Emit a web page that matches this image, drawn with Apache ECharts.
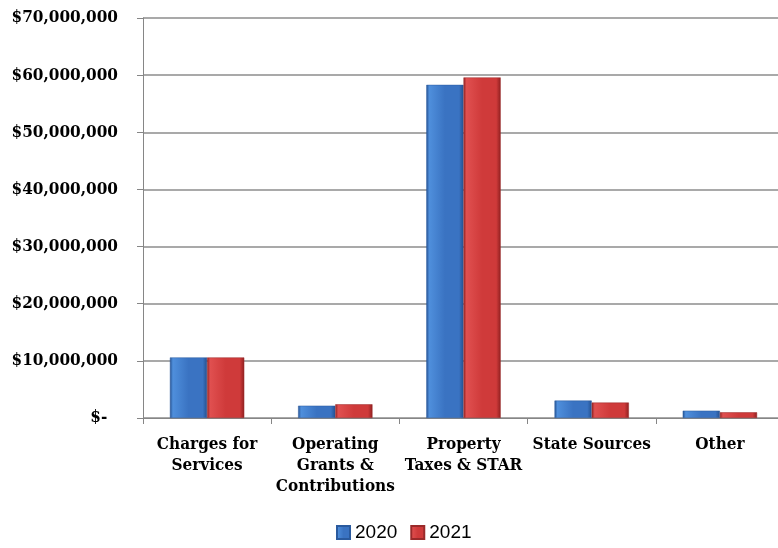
<!DOCTYPE html>
<html><head><meta charset="utf-8">
<script src="https://cdn.jsdelivr.net/npm/echarts@6/dist/echarts.min.js"></script>
<style>html,body{margin:0;padding:0;background:#fff}#c{width:778px;height:548px}</style>
</head><body><div id="c"></div>
<script>
const categories = ["Charges for\nServices", "Operating\nGrants &\nContributions", "Property\nTaxes & STAR", "State Sources", "Other"];
const seriesNames = ["2020", "2021"];
const values2020 = [10600000, 2150000, 58300000, 3050000, 1280000];
const values2021 = [10600000, 2400000, 59600000, 2700000, 1000000];
const yTicks = [0, 10000000, 20000000, 30000000, 40000000, 50000000, 60000000, 70000000];

function grad(light, mid, dark) {
  return new echarts.graphic.LinearGradient(0, 0, 1, 0, [
    {offset: 0, color: dark}, {offset: 0.08, color: light}, {offset: 0.5, color: mid}, {offset: 0.88, color: mid}, {offset: 1, color: dark}
  ]);
}
const blue = grad('#4f8fdc', '#3a73c2', '#24508f');
const red = grad('#e05050', '#cf3a3a', '#8f2020');

const serif = '"DejaVu Serif Condensed", "DejaVu Serif", serif';
function fmt(v) {
  if (v === 0) return '$-  ';
  return '$' + v.toLocaleString('en-US');
}
const chart = echarts.init(document.getElementById('c'));
chart.setOption({
  animation: false,
  grid: {left: 143, width: 641, top: 18, height: 400, containLabel: false, outerBoundsMode: 'none'},
  legend: {
    data: seriesNames, top: 523, left: 336, padding: 0, itemWidth: 13, itemHeight: 13, itemGap: 13,
    textStyle: {fontFamily: '"Liberation Sans", sans-serif', fontSize: 19, color: '#000'},
    icon: 'rect'
  },
  xAxis: {
    type: 'category', data: categories,
    axisLine: {lineStyle: {color: '#868686', width: 1}},
    axisTick: {show: true, length: 6, lineStyle: {color: '#868686'}},
    axisLabel: {interval: 0, margin: 16, fontFamily: serif, fontWeight: 'bold', fontSize: 17, color: '#000', lineHeight: 21}
  },
  yAxis: {
    type: 'value', min: yTicks[0], max: yTicks[yTicks.length - 1], interval: yTicks[1] - yTicks[0],
    axisLine: {show: true, lineStyle: {color: '#868686'}},
    axisTick: {show: true, length: 6, lineStyle: {color: '#868686'}},
    splitLine: {lineStyle: {color: '#8c8c8c', width: 1.5}},
    axisLabel: {margin: 25, formatter: fmt, fontFamily: serif, fontWeight: 'bold', fontSize: 17, color: '#000'}
  },
  series: [
    {name: seriesNames[0], type: 'bar', data: values2020, barWidth: '29%', barGap: '0%', itemStyle: {color: blue, borderColor: '#2a5a9e', borderWidth: 0.5}},
    {name: seriesNames[1], type: 'bar', data: values2021, barWidth: '29%', barGap: '0%', itemStyle: {color: red, borderColor: '#9a2a2a', borderWidth: 0.5}}
  ]
});
</script></body></html>
